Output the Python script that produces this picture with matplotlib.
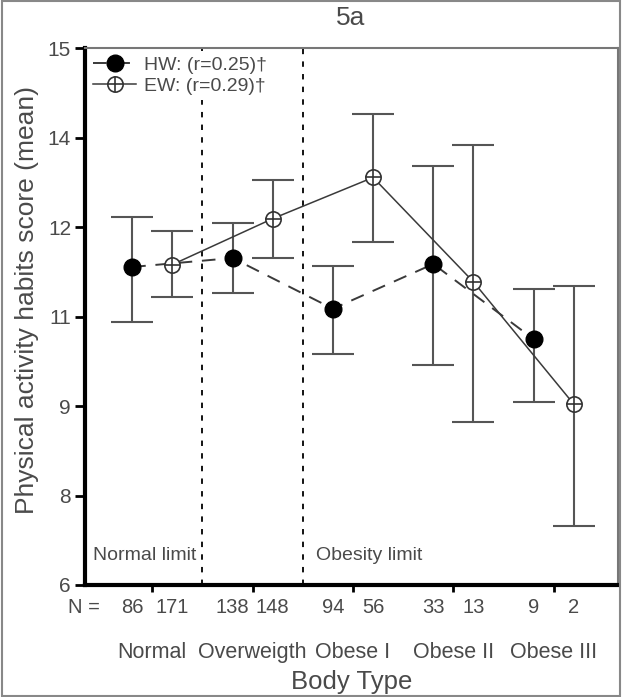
import matplotlib.pyplot as plt
from matplotlib.legend_handler import HandlerTuple
from matplotlib.patches import Rectangle

plt.rcParams['font.family'] = ['Liberation Sans', 'DejaVu Sans']

# data
groups = ['Normal', 'Overweigth', 'Obese I', 'Obese II', 'Obese III']
hw_mean = [11.33, 11.48, 10.63, 11.38, 10.12]
hw_low = [10.41, 10.90, 9.87, 9.68, 9.06]
hw_high = [12.17, 12.07, 11.35, 13.02, 10.96]
ew_mean = [11.37, 12.14, 12.83, 11.08, 9.03]
ew_low = [10.83, 11.48, 11.75, 8.74, 6.99]
ew_high = [11.94, 12.78, 13.89, 13.37, 11.01]
hw_n = [86, 138, 94, 33, 9]
ew_n = [171, 148, 56, 13, 2]
y_ticks = [6, 7.5, 9, 10.5, 12, 13.5, 15]
y_tick_labels = ['6', '8', '9', '11', '12', '14', '15']
limit_x = [1.5, 2.5]
limit_labels = ['Normal limit', 'Obesity limit']
limit_label_x = [0.41, 2.63]

txt = '#4a4a4a'
grey = '#555555'

fig = plt.figure(figsize=(6.22, 6.97), dpi=100)
ax = fig.add_axes([85 / 622, 1 - 585 / 697, 533 / 622, 537 / 697])

pos = range(1, len(groups) + 1)
hw_x = [p - 0.2 for p in pos]
ew_x = [p + 0.2 for p in pos]

ax.errorbar(hw_x, hw_mean, yerr=[[m - l for m, l in zip(hw_mean, hw_low)], [h - m for m, h in zip(hw_mean, hw_high)]],
            fmt='none', ecolor=grey, elinewidth=1.5, capsize=14.8, capthick=1.5, zorder=2)
ax.errorbar(ew_x, ew_mean, yerr=[[m - l for m, l in zip(ew_mean, ew_low)], [h - m for m, h in zip(ew_mean, ew_high)]],
            fmt='none', ecolor=grey, elinewidth=1.5, capsize=14.8, capthick=1.5, zorder=2)

hw_line, = ax.plot(hw_x, hw_mean, ls=(0, (7, 5)), color='#3a3a3a', lw=1.4, marker='o', ms=12,
                   mfc='black', mec='black', zorder=3)
ew_line, = ax.plot(ew_x, ew_mean, ls='-', color='#3a3a3a', lw=1.1, marker='o', ms=11,
                   mfc='white', mec='#333333', mew=1.2, zorder=3)
ew_plus, = ax.plot(ew_x, ew_mean, ls='none', marker='+', ms=11, mec='#333333', mew=1.2, zorder=4)

for x in limit_x:
    ax.axvline(x, color='black', ls=(0, (3, 4)), lw=1.3, zorder=1)
for x, lab in zip(limit_label_x, limit_labels):
    ax.text(x, 6.5, lab, color=txt, fontsize=14, va='center', ha='left')

leg = ax.legend([hw_line, (ew_line, ew_plus)], ['HW: (r=0.25)\u2020', 'EW: (r=0.29)\u2020'],
                handler_map={tuple: HandlerTuple(ndivide=1)}, loc='upper left',
                bbox_to_anchor=(0.005, 0.995), frameon=True, facecolor='white', edgecolor='none',
                framealpha=1, fontsize=14, handlelength=2.2, handletextpad=0.4,
                labelspacing=0.15, borderpad=0.3, borderaxespad=0)
for t in leg.get_texts():
    t.set_color(txt)

ax.set_xlim(0.33, 5.64)
ax.set_ylim(6, 15)
ax.set_yticks(y_ticks)
ax.set_yticklabels(y_tick_labels)
ax.set_xticks(list(pos))
ax.set_xticklabels(groups)
ax.tick_params(axis='y', direction='out', length=7, width=2, pad=3, labelsize=15, labelcolor=txt)
ax.tick_params(axis='x', direction='out', length=5, width=2, pad=36, labelsize=15.5, labelcolor=txt)

for s in ['left', 'bottom']:
    ax.spines[s].set_linewidth(3)
    ax.spines[s].set_color('black')
for s in ['top', 'right']:
    ax.spines[s].set_linewidth(1.5)
    ax.spines[s].set_color('#777777')

# N row under the axis
ax.text(0.027, -0.041, 'N =', transform=ax.transAxes, ha='right', va='center', fontsize=14.5, color=txt)
for x, n in zip(hw_x + ew_x, hw_n + ew_n):
    ax.text(x, -0.041, str(n), transform=ax.get_xaxis_transform(), ha='center', va='center',
            fontsize=14.5, color=txt)

ax.set_xlabel('Body Type', fontsize=18.5, color=txt)
ax.xaxis.set_label_coords(0.5, -0.158)
ax.set_ylabel('Physical activity habits score (mean)', fontsize=19, color=txt)
ax.yaxis.set_label_coords(-0.086, 0.53)

fig.text(351 / 622, 1 - 18 / 697, '5a', ha='center', va='center', fontsize=19, color=txt)
fig.patches.append(Rectangle((0.003, 0.001), 0.994, 0.997, transform=fig.transFigure,
                             fill=False, ec='#888888', lw=1.5))

fig.savefig('out.png', dpi=100)
